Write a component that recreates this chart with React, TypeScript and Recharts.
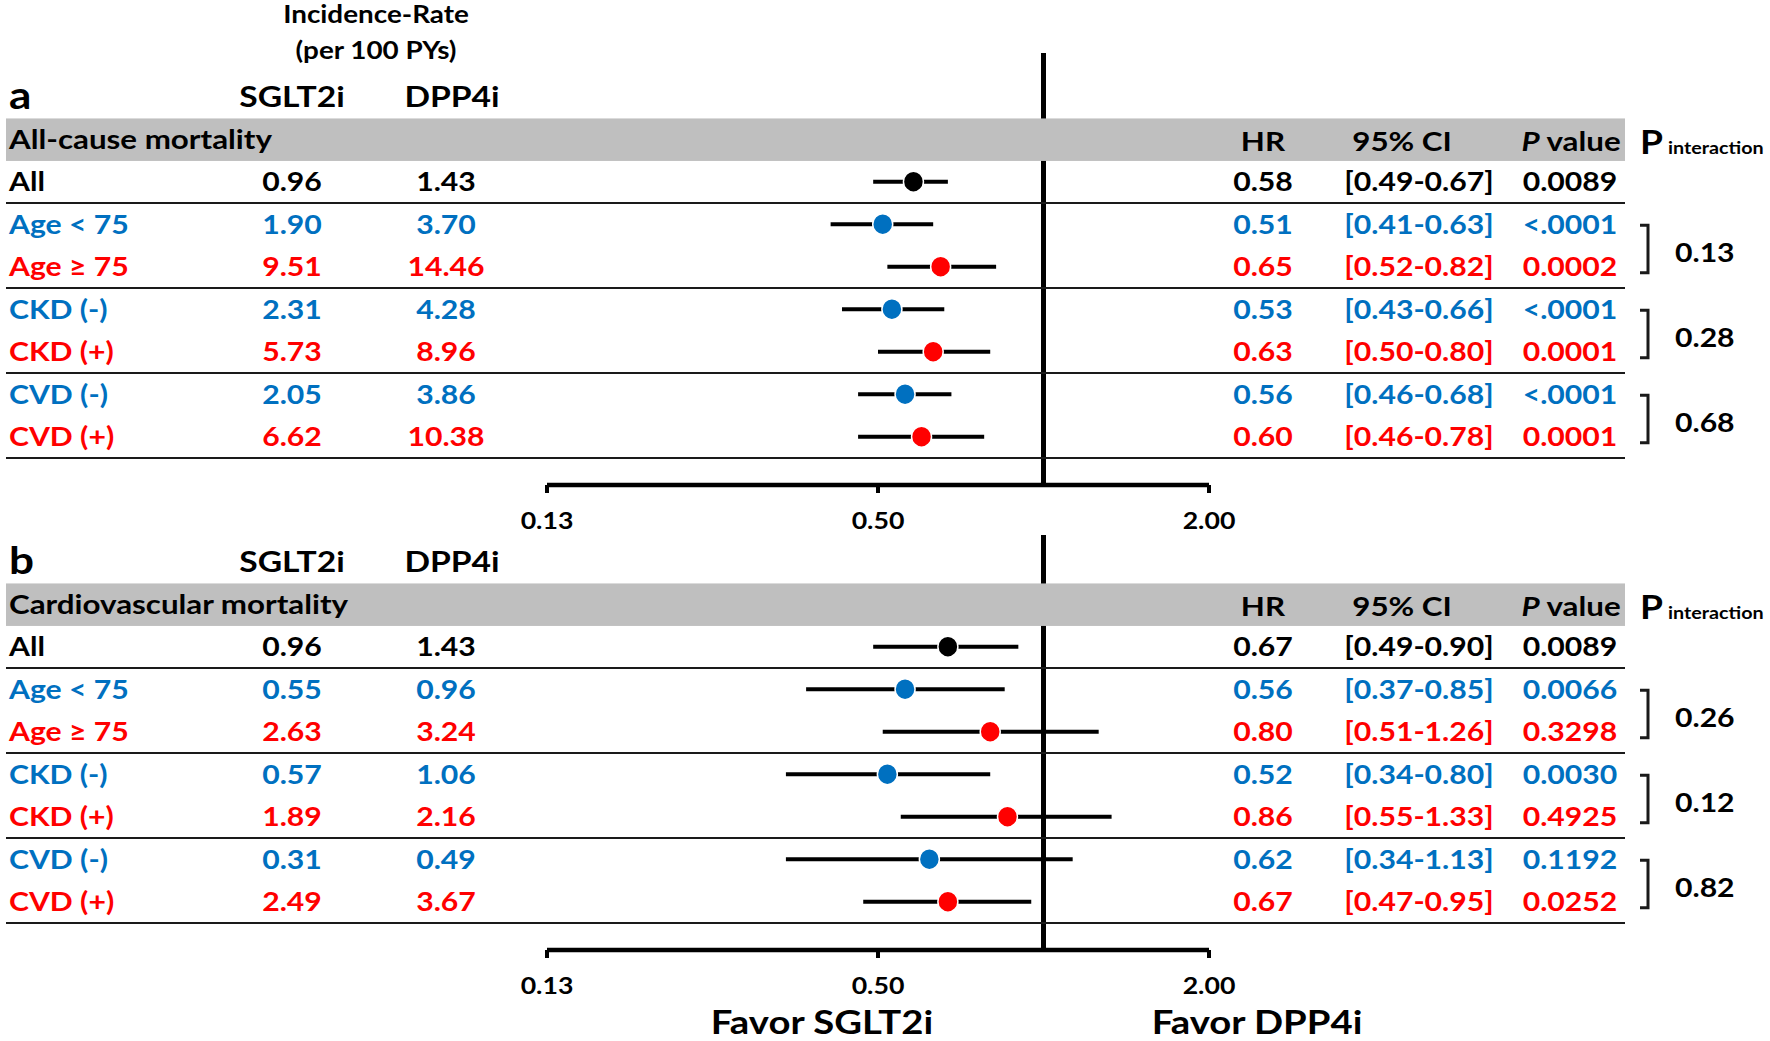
import { ScatterChart, Scatter, XAxis, YAxis, ReferenceLine, ErrorBar, Label } from 'recharts';

// subgroups shared by both panels
const subgroups = ['All', 'Age < 75', 'Age ≥ 75', 'CKD (-)', 'CKD (+)', 'CVD (-)', 'CVD (+)'];
const subgroupColors = ['#000000', '#0070C0', '#FF0000', '#0070C0', '#FF0000', '#0070C0', '#FF0000'];

// a: all-cause mortality
const allCauseSGLT2i = ['0.96', '1.90', '9.51', '2.31', '5.73', '2.05', '6.62'];
const allCauseDPP4i = ['1.43', '3.70', '14.46', '4.28', '8.96', '3.86', '10.38'];
const allCauseHR = [0.58, 0.51, 0.65, 0.53, 0.63, 0.56, 0.6];
const allCauseLower = [0.49, 0.41, 0.52, 0.43, 0.5, 0.46, 0.46];
const allCauseUpper = [0.67, 0.63, 0.82, 0.66, 0.8, 0.68, 0.78];
const allCauseP = ['0.0089', '<.0001', '0.0002', '<.0001', '0.0001', '<.0001', '0.0001'];
const allCausePInteraction = ['0.13', '0.28', '0.68'];

// b: cardiovascular mortality
const cvSGLT2i = ['0.96', '0.55', '2.63', '0.57', '1.89', '0.31', '2.49'];
const cvDPP4i = ['1.43', '0.96', '3.24', '1.06', '2.16', '0.49', '3.67'];
const cvHR = [0.67, 0.56, 0.8, 0.52, 0.86, 0.62, 0.67];
const cvLower = [0.49, 0.37, 0.51, 0.34, 0.55, 0.34, 0.47];
const cvUpper = [0.9, 0.85, 1.26, 0.8, 1.33, 1.13, 0.95];
const cvP = ['0.0089', '0.0066', '0.3298', '0.0030', '0.4925', '0.1192', '0.0252'];
const cvPInteraction = ['0.26', '0.12', '0.82'];

const xTicks = [0.125, 0.5, 2];
const xTickLabels = ['0.13', '0.50', '2.00'];

// layout
const W = 1770;
const ROW_H = 42.5;
const ROW0_Y = 181.7;
const PLOT_BOTTOM = 485;
const SX = 1.16;
const FONT = "Lato, 'Open Sans', sans-serif";
const GRID = '#1a1a1a';

function T({ x, y, size = 26, anchor = 'start', color = '#000', children }: any) {
  return (
    <text
      transform={`translate(${x},${y}) scale(${SX},1)`}
      x={0}
      y={0}
      dy={size * 0.36}
      textAnchor={anchor}
      fontFamily={FONT}
      fontWeight={700}
      fontSize={size}
      fill={color}
    >
      {children}
    </text>
  );
}

function buildPanel(letter, title, sglt, dpp, hr, lo, hi, p, pint, incidence, plotTop) {
  return {
    letter, title, sglt, dpp, hr, lo, hi, p, pint, incidence, plotTop,
    data: hr.map((v, i) => ({ row: i, hr: v, err: [v - lo[i], hi[i] - v], color: subgroupColors[i] })),
  };
}

const panelA = buildPanel('a', 'All-cause mortality', allCauseSGLT2i, allCauseDPP4i, allCauseHR, allCauseLower,
  allCauseUpper, allCauseP, allCausePInteraction, true, 53);
const panelB = buildPanel('b', 'Cardiovascular mortality', cvSGLT2i, cvDPP4i, cvHR, cvLower,
  cvUpper, cvP, cvPInteraction, false, 70);

const rowTick = (panel) => (props: any) => {
  const i = props.payload.value;
  const y = props.y;
  if (i === -2) {
    return (
      <g>
        {panel.incidence && <T x={376} y={y - 82} anchor="middle" size={24}>Incidence-Rate</T>}
        {panel.incidence && <T x={376} y={y - 46} anchor="middle" size={24}>(per 100 PYs)</T>}
        <T x={9} y={y - 1} size={38}>{panel.letter}</T>
        <T x={292} y={y} anchor="middle" size={29}>SGLT2i</T>
        <T x={452} y={y} anchor="middle" size={29}>DPP4i</T>
      </g>
    );
  }
  if (i === -1) {
    return (
      <g>
        <rect x={6} y={y - ROW_H / 2 + 0.5} width={1619} height={ROW_H} fill="#BFBFBF" />
        <T x={9} y={y} size={27}>{panel.title}</T>
        <T x={1263} y={y + 2} anchor="middle" size={27}>HR</T>
        <T x={1402} y={y + 2} anchor="middle" size={27}>95%  CI</T>
        <T x={1571} y={y + 2} anchor="middle" size={27}>
          <tspan fontStyle="italic">P</tspan> value
        </T>
        <T x={1640} y={y + 3} size={32}>P</T>
        <T x={1668} y={y + 9} size={17}>interaction</T>
      </g>
    );
  }
  const color = subgroupColors[i];
  return (
    <g>
      <T x={9} y={y} color={color}>{subgroups[i]}</T>
      <T x={292} y={y} anchor="middle" color={color}>{panel.sglt[i]}</T>
      <T x={446} y={y} anchor="middle" color={color}>{panel.dpp[i]}</T>
      <T x={1263} y={y} anchor="middle" color={color}>{panel.hr[i].toFixed(2)}</T>
      <T x={1419} y={y} anchor="middle" color={color}>
        {`[${panel.lo[i].toFixed(2)}-${panel.hi[i].toFixed(2)}]`}
      </T>
      <T x={1570} y={y} anchor="middle" color={color}>{panel.p[i]}</T>
      {i % 2 === 0 && (
        <line x1={6} x2={1625} y1={y + ROW_H / 2} y2={y + ROW_H / 2} stroke={GRID} strokeWidth={2} />
      )}
      {i % 2 === 1 && (
        <g>
          <polyline
            points={`1640,${y + 1} 1648,${y + 1} 1648,${y + ROW_H + 6} 1640,${y + ROW_H + 6}`}
            fill="none"
            stroke={GRID}
            strokeWidth={3}
          />
          <T x={1675} y={y + 28}>{panel.pint[(i - 1) / 2]}</T>
        </g>
      )}
    </g>
  );
};

const XTick = (props: any) => (
  <T x={props.x} y={props.y + 26} anchor="middle" size={23}>{xTickLabels[props.index]}</T>
);

const FavorLabels = (props: any) => {
  const vb = props.viewBox;
  return (
    <g>
      <T x={vb.x + 275} y={vb.y + 72} anchor="middle" size={33}>Favor SGLT2i</T>
      <T x={vb.x + 710} y={vb.y + 72} anchor="middle" size={33}>Favor DPP4i</T>
    </g>
  );
};

function ForestPanel({ panel, height, favor }: any) {
  const yMin = (panel.plotTop - ROW0_Y) / ROW_H;
  const yMax = (PLOT_BOTTOM - ROW0_Y) / ROW_H;
  const axisH = height - PLOT_BOTTOM;
  return (
    <ScatterChart width={W} height={height} margin={{ top: panel.plotTop, right: 561, bottom: 0, left: 546 }}>
      <XAxis
        type="number"
        dataKey="hr"
        scale="log"
        domain={[0.125, 2]}
        ticks={xTicks}
        allowDataOverflow
        interval={0}
        height={axisH}
        axisLine={{ stroke: '#000', strokeWidth: 4.5 }}
        tickLine={{ stroke: '#000', strokeWidth: 4 }}
        tickSize={8}
        tick={XTick}
      >
        {favor && <Label content={FavorLabels} />}
      </XAxis>
      <YAxis
        type="number"
        dataKey="row"
        reversed
        domain={[yMin, yMax]}
        ticks={[-2, -1, 0, 1, 2, 3, 4, 5, 6]}
        interval={0}
        allowDataOverflow
        width={1}
        axisLine={false}
        tickLine={false}
        tick={rowTick(panel)}
      />
      <ReferenceLine x={1} stroke="#000" strokeWidth={5} />
      <Scatter
        data={panel.data}
        isAnimationActive={false}
        shape={(p: any) => <ellipse cx={p.cx} cy={p.cy} rx={10} ry={10.5} fill={p.payload.color} stroke="#fff" strokeWidth={1.5} />}
      >
        <ErrorBar dataKey="err" direction="x" width={0} stroke="#000" strokeWidth={4} />
      </Scatter>
    </ScatterChart>
  );
}

export default function App() {
  return (
    <div style={{ position: 'absolute', left: 0, top: 0, width: W, height: 1041, overflow: 'hidden', background: '#fff' }}>
      <div style={{ position: 'absolute', left: 0, top: 0 }}>
        <ForestPanel panel={panelA} height={545} favor={false} />
      </div>
      <div style={{ position: 'absolute', left: 0, top: 465 }}>
        <ForestPanel panel={panelB} height={575} favor />
      </div>
    </div>
  );
}
